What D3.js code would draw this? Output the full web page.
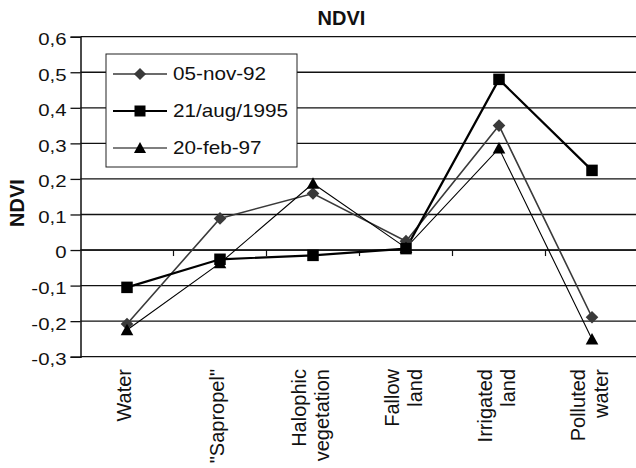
<!DOCTYPE html>
<html><head><meta charset="utf-8">
<script src="https://cdn.jsdelivr.net/npm/d3@7"></script>
<style>body{margin:0;background:#fff}svg{display:block}text{font-family:Arial,"Liberation Sans",sans-serif}</style>
</head><body><svg id="c" width="636" height="468"></svg>
<script>
const categories = [["Water"],["\"Sapropel\""],["Halophic","vegetation"],["Fallow","land"],["Irrigated","land"],["Polluted","water"]];
const seriesNames = ["05-nov-92","21/aug/1995","20-feb-97"];
const nov92 = [-0.208, 0.089, 0.159, 0.025, 0.350, -0.189];
const aug95 = [-0.105, -0.026, -0.015, 0.004, 0.480, 0.224];
const feb97 = [-0.225, -0.037, 0.187, 0.006, 0.286, -0.251];
const yTicks = [-0.3,-0.2,-0.1,0,0.1,0.2,0.3,0.4,0.5,0.6];
const yTickLabels = ["-0,3","-0,2","-0,1","0","0,1","0,2","0,3","0,4","0,5","0,6"];

const svg = d3.select("#c");
const x = d3.scaleBand().domain(d3.range(categories.length)).range([80.5, 638.5]).padding(0);
const y = d3.scaleLinear().domain([-0.3, 0.6]).range([356.7, 36.7]);
const cx = i => x(i) + x.bandwidth()/2;

// gridlines
svg.append("g").selectAll("line").data(yTicks).join("line")
  .attr("x1", 80.5).attr("x2", 638).attr("y1", d=>y(d)).attr("y2", d=>y(d))
  .attr("stroke", "#111").attr("stroke-width", 1.3);

// y axis
const yAxis = svg.append("g").attr("transform","translate(80.5,0)")
  .call(d3.axisLeft(y).tickValues(yTicks).tickSize(10).tickFormat((d,i)=>yTickLabels[i]));
yAxis.select(".domain").attr("stroke","#111").attr("stroke-width",1.5);
yAxis.selectAll(".tick line").attr("stroke","#111").attr("stroke-width",1.3);
yAxis.selectAll(".tick text").remove();
yAxis.selectAll(".tick").append("text")
  .attr("transform","translate(-14,2) scale(1.2,1)")
  .attr("text-anchor","end").attr("dy","0.35em")
  .attr("font-size",17).attr("fill","#111")
  .text((d,i)=>yTickLabels[i]);

// x axis at 0
const xAxisG = svg.append("g");
xAxisG.append("line").attr("x1",80.5).attr("x2",638).attr("y1",y(0)).attr("y2",y(0)).attr("stroke","#111").attr("stroke-width",1.5);
xAxisG.selectAll("line.tk").data(d3.range(1,categories.length)).join("line").attr("class","tk")
  .attr("x1",d=>x(d)).attr("x2",d=>x(d)).attr("y1",y(0)).attr("y2",y(0)+6)
  .attr("stroke","#111").attr("stroke-width",1.2);

// x labels
const lab = svg.append("g").selectAll("text").data(categories).join("text")
  .attr("transform",(d,i)=>`translate(${cx(i)},369) rotate(-90)`)
  .attr("text-anchor","end").attr("font-size",20).attr("fill","#111");
lab.each(function(d){
  const t = d3.select(this);
  const n = d.length;
  d.forEach((s,k)=>{
    t.append("tspan").attr("x",0).attr("y", (k-(n-1)/2)*23 + 4).attr("dy","0.0em").text(s);
  });
});

// title & axis title
svg.append("text").attr("x",341.5).attr("y",25).attr("text-anchor","middle")
  .attr("font-size",20).attr("font-weight","bold").attr("fill","#111").text("NDVI");
svg.append("text").attr("transform","translate(24,203) rotate(-90)").attr("text-anchor","middle")
  .attr("font-size",20).attr("font-weight","bold").attr("fill","#111").text("NDVI");

// series
const styles = [
  {data: nov92, color:"#3a3a3a", width:1.6, sym:"diamond"},
  {data: aug95, color:"#000", width:2.2, sym:"square"},
  {data: feb97, color:"#000", width:1.1, sym:"triangle"}
];
function marker(g, sym, color, s){
  if(sym==="diamond") g.append("path").attr("d",`M0,${-s*0.55}L${s*0.55},0L0,${s*0.55}L${-s*0.55},0Z`).attr("fill",color);
  else if(sym==="square") g.append("rect").attr("x",-s/2).attr("y",-s/2).attr("width",s).attr("height",s).attr("fill",color);
  else g.append("path").attr("d",`M0,${-s*0.55}L${s*0.55},${s*0.45}L${-s*0.55},${s*0.45}Z`).attr("fill",color);
}
const line = d3.line().x((d,i)=>cx(i)).y(d=>y(d));
styles.forEach(st=>{
  svg.append("path").attr("d",line(st.data)).attr("fill","none").attr("stroke",st.color).attr("stroke-width",st.width);
});
styles.forEach(st=>{
  st.data.forEach((v,i)=>{
    const g = svg.append("g").attr("transform",`translate(${cx(i)},${y(v)})`);
    marker(g, st.sym, st.color, 11.5);
  });
});

// legend
const leg = svg.append("g");
leg.append("rect").attr("x",106).attr("y",54).attr("width",191).attr("height",113)
  .attr("fill","#fff").attr("stroke","#222").attr("stroke-width",1);
const legY = [74,111,148];
styles.forEach((st,k)=>{
  leg.append("line").attr("x1",113).attr("x2",167).attr("y1",legY[k]).attr("y2",legY[k])
    .attr("stroke",st.color).attr("stroke-width",st.width);
  const g = leg.append("g").attr("transform",`translate(140,${legY[k]})`);
  marker(g, st.sym, st.color, 11);
  leg.append("text").attr("transform",`translate(173,${legY[k]}) scale(1.15,1)`).attr("dy","0.35em")
    .attr("font-size",18).attr("fill","#111").text(seriesNames[k]);
});
</script></body></html>
